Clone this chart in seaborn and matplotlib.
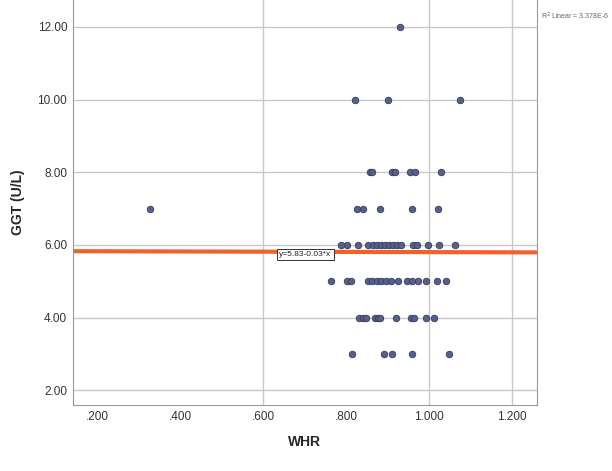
import numpy as np
import pandas as pd
import matplotlib
matplotlib.use("Agg")
import matplotlib.pyplot as plt
import seaborn as sns

# Data
whr = [0.326,
       0.929,
       0.821, 0.900, 1.074,
       0.857, 0.862, 0.910, 0.917, 0.954, 0.966, 1.028,
       0.826, 0.840, 0.881, 0.958, 1.021,
       0.787, 0.801, 0.828, 0.852, 0.864, 0.874, 0.884, 0.893, 0.903, 0.913, 0.922, 0.932, 0.961, 0.970, 0.997, 1.023, 1.062,
       0.763, 0.801, 0.811, 0.852, 0.862, 0.874, 0.884, 0.896, 0.908, 0.925, 0.946, 0.959, 0.973, 0.992, 1.019, 1.041,
       0.830, 0.840, 0.847, 0.869, 0.876, 0.881, 0.920, 0.956, 0.963, 0.992, 1.012,
       0.814, 0.891, 0.910, 0.958, 1.048]
ggt = [7,
       12,
       10, 10, 10,
       8, 8, 8, 8, 8, 8, 8,
       7, 7, 7, 7, 7,
       6, 6, 6, 6, 6, 6, 6, 6, 6, 6, 6, 6, 6, 6, 6, 6, 6,
       5, 5, 5, 5, 5, 5, 5, 5, 5, 5, 5, 5, 5, 5, 5, 5,
       4, 4, 4, 4, 4, 4, 4, 4, 4, 4, 4,
       3, 3, 3, 3, 3]
fit_intercept = 5.83
fit_slope = -0.03
x_ticks = [0.2, 0.4, 0.6, 0.8, 1.0, 1.2]
x_tick_labels = [".200", ".400", ".600", ".800", "1.000", "1.200"]
y_ticks = [2, 4, 6, 8, 10, 12]
y_tick_labels = ["2.00", "4.00", "6.00", "8.00", "10.00", "12.00"]

df = pd.DataFrame({"WHR": whr, "GGT": ggt})

sns.set_theme(style="white")
plt.rcParams["font.family"] = ["Liberation Sans", "DejaVu Sans"]

fig = plt.figure(figsize=(6.12, 4.71), dpi=100)
ax = fig.add_axes([0.119, 0.140, 0.758, 0.860])

xlim = (0.14, 1.26)
ylim = (1.59, 12.74)
ax.set_xlim(*xlim)
ax.set_ylim(*ylim)

# grid
for yv in y_ticks:
    ax.axhline(yv, color="#c8c8c8", lw=1.0, zorder=0)
for xv in [0.6, 1.0, 1.2]:
    ax.axvline(xv, color="#c8c8c8", lw=1.0, zorder=0)

# fit line
fx = np.array(xlim)
fit_df = pd.DataFrame({"x": fx, "y": fit_intercept + fit_slope * fx})
sns.lineplot(data=fit_df, x="x", y="y", ax=ax, color="#f0622a", lw=3, zorder=2)

sns.scatterplot(data=df, x="WHR", y="GGT", ax=ax, color="#56608a",
                edgecolor="#333b5c", linewidth=0.6, s=22, zorder=3)

ax.set_xticks(x_ticks)
ax.set_xticklabels(x_tick_labels, fontsize=8.5, color="#333333")
ax.set_yticks(y_ticks)
ax.set_yticklabels(y_tick_labels, fontsize=8.5, color="#333333")
ax.tick_params(axis="both", length=0, pad=4)

ax.set_xlabel("WHR", fontsize=10, fontweight="bold", labelpad=9)
ax.set_ylabel("GGT (U/L)", fontsize=10, fontweight="bold", labelpad=9)

for side in ["left", "bottom", "right"]:
    ax.spines[side].set_visible(True)
    ax.spines[side].set_color("#9a9a9a")
    ax.spines[side].set_linewidth(0.8)
ax.spines["top"].set_visible(False)

ax.text(0.702, fit_intercept + fit_slope * 0.702 - 0.08, "y=5.83-0.03*x", fontsize=6,
        ha="center", va="center", color="#222222", zorder=4,
        bbox=dict(boxstyle="square,pad=0.25", fc="white", ec="#333333", lw=0.7))

fig.text(0.995, 0.965, "R$^2$ Linear = 3.378E-6", fontsize=5, ha="right", va="center",
         color="#666666")

fig.savefig("out.png", dpi=100)
